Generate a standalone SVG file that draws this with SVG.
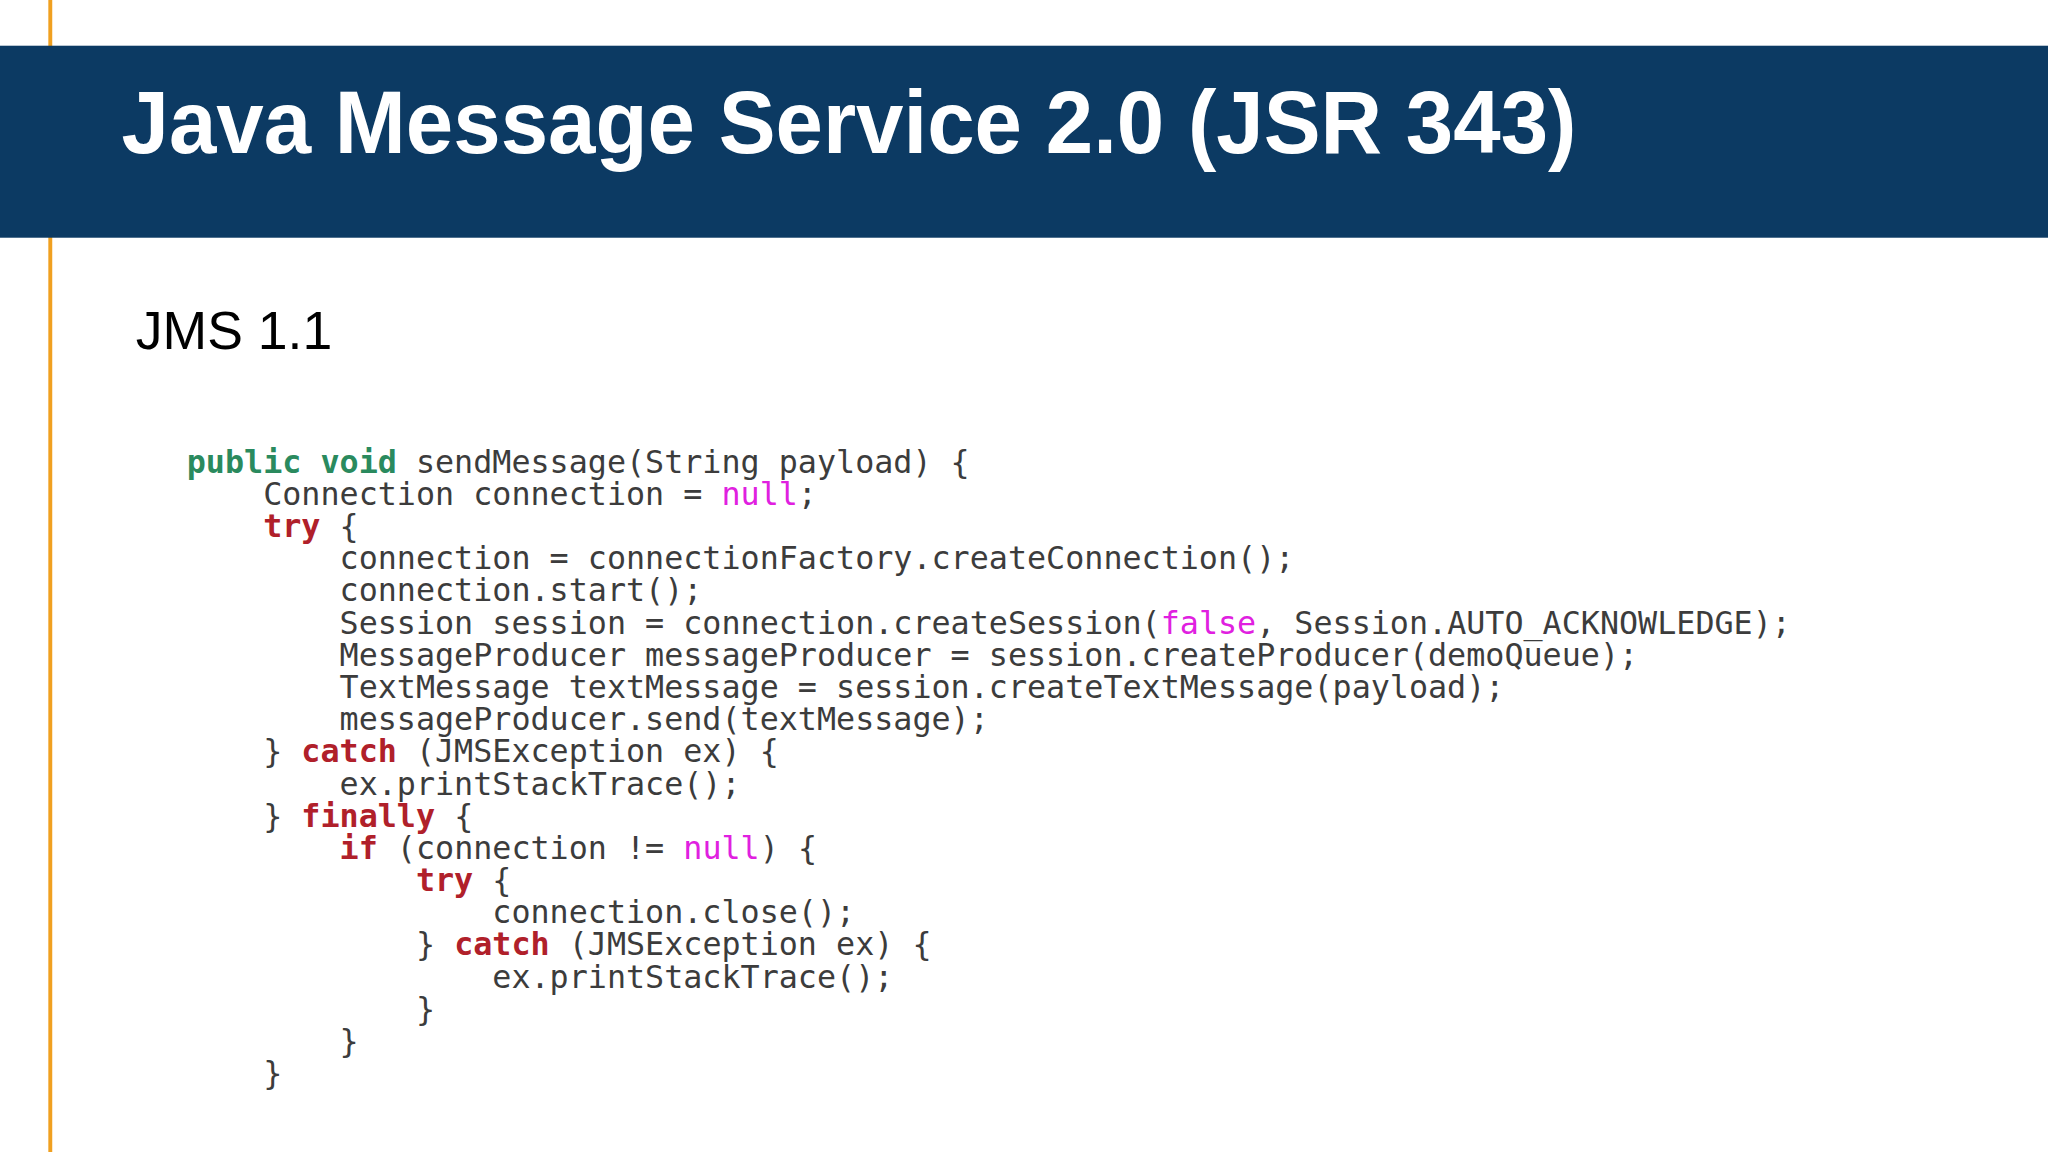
<svg xmlns="http://www.w3.org/2000/svg" width="2048" height="1152" viewBox="0 0 2048 1152">
<style>
.c{font-family:"DejaVu Sans Mono",monospace;font-size:24.3px;fill:#3c3c3c;white-space:pre}
.g{fill:#2a8a5e;font-weight:bold}
.r{fill:#b0202a;font-weight:bold}
.m{fill:#e020e0}
</style>
<rect width="2048" height="1152" fill="#ffffff"/>
<g transform="scale(1.30612)">
<rect x="37" y="0" width="3" height="882" fill="#f0a020"/>
<rect x="0" y="35" width="1568" height="147" fill="#0c3a63"/>
<text x="93" y="117" font-family="Liberation Sans, Arial, sans-serif" font-weight="bold" font-size="68" fill="#ffffff" textLength="1114" lengthAdjust="spacingAndGlyphs">Java Message Service 2.0 (JSR 343)</text>
<text x="104" y="267" font-family="Liberation Sans, Arial, sans-serif" font-size="41" fill="#000000">JMS 1.1</text>
<g id="code">
<text class="c" x="143" y="362" xml:space="preserve"><tspan class="g">public void</tspan> sendMessage(String payload) {</text>
<text class="c" x="143" y="386.6" xml:space="preserve">    Connection connection = <tspan class="m">null</tspan>;</text>
<text class="c" x="143" y="411.3" xml:space="preserve">    <tspan class="r">try</tspan> {</text>
<text class="c" x="143" y="435.9" xml:space="preserve">        connection = connectionFactory.createConnection();</text>
<text class="c" x="143" y="460.5" xml:space="preserve">        connection.start();</text>
<text class="c" x="143" y="485.2" xml:space="preserve">        Session session = connection.createSession(<tspan class="m">false</tspan>, Session.AUTO_ACKNOWLEDGE);</text>
<text class="c" x="143" y="509.8" xml:space="preserve">        MessageProducer messageProducer = session.createProducer(demoQueue);</text>
<text class="c" x="143" y="534.4" xml:space="preserve">        TextMessage textMessage = session.createTextMessage(payload);</text>
<text class="c" x="143" y="559.0" xml:space="preserve">        messageProducer.send(textMessage);</text>
<text class="c" x="143" y="583.7" xml:space="preserve">    } <tspan class="r">catch</tspan> (JMSException ex) {</text>
<text class="c" x="143" y="608.3" xml:space="preserve">        ex.printStackTrace();</text>
<text class="c" x="143" y="632.9" xml:space="preserve">    } <tspan class="r">finally</tspan> {</text>
<text class="c" x="143" y="657.6" xml:space="preserve">        <tspan class="r">if</tspan> (connection != <tspan class="m">null</tspan>) {</text>
<text class="c" x="143" y="682.2" xml:space="preserve">            <tspan class="r">try</tspan> {</text>
<text class="c" x="143" y="706.8" xml:space="preserve">                connection.close();</text>
<text class="c" x="143" y="731.5" xml:space="preserve">            } <tspan class="r">catch</tspan> (JMSException ex) {</text>
<text class="c" x="143" y="756.1" xml:space="preserve">                ex.printStackTrace();</text>
<text class="c" x="143" y="780.7" xml:space="preserve">            }</text>
<text class="c" x="143" y="805.3" xml:space="preserve">        }</text>
<text class="c" x="143" y="830.0" xml:space="preserve">    }</text>
</g>
</g>
</svg>
